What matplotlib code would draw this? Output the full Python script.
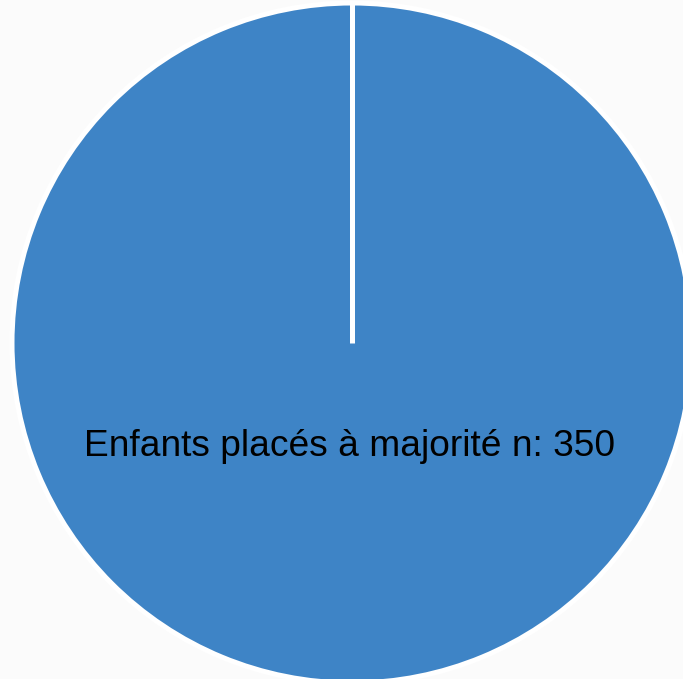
import matplotlib
matplotlib.use("Agg")
import matplotlib.pyplot as plt
import numpy as np

labels = ["Enfants placés à majorité n: 350"]
values = [350]
colors = ["#3E84C6"]

fig = plt.figure(figsize=(6.83, 6.79), dpi=100, facecolor="#fbfbfb")
ax = fig.add_axes([0, 0, 1, 1])
ax.set_facecolor("#fbfbfb")
wedges, _ = ax.pie(values, colors=colors, startangle=90, counterclock=False,
                   center=(352, 336), radius=340,
                   wedgeprops=dict(edgecolor="white", linewidth=3.6), frame=True)
# radial border of the single full wedge at its start angle
w = wedges[0]
cx, cy = w.center
ang = np.deg2rad(w.theta2)
ax.plot([cx, cx + w.r * np.cos(ang)], [cy, cy + w.r * np.sin(ang)],
        color="white", lw=3.6, solid_capstyle="butt")
ax.set_xlim(0, 683)
ax.set_ylim(0, 679)
ax.axis("off")
ax.text(350, 233, labels[0], ha="center", va="center",
        fontsize=26.7, family="Liberation Sans", color="black")
fig.savefig("out.png", dpi=100, facecolor=fig.get_facecolor())
